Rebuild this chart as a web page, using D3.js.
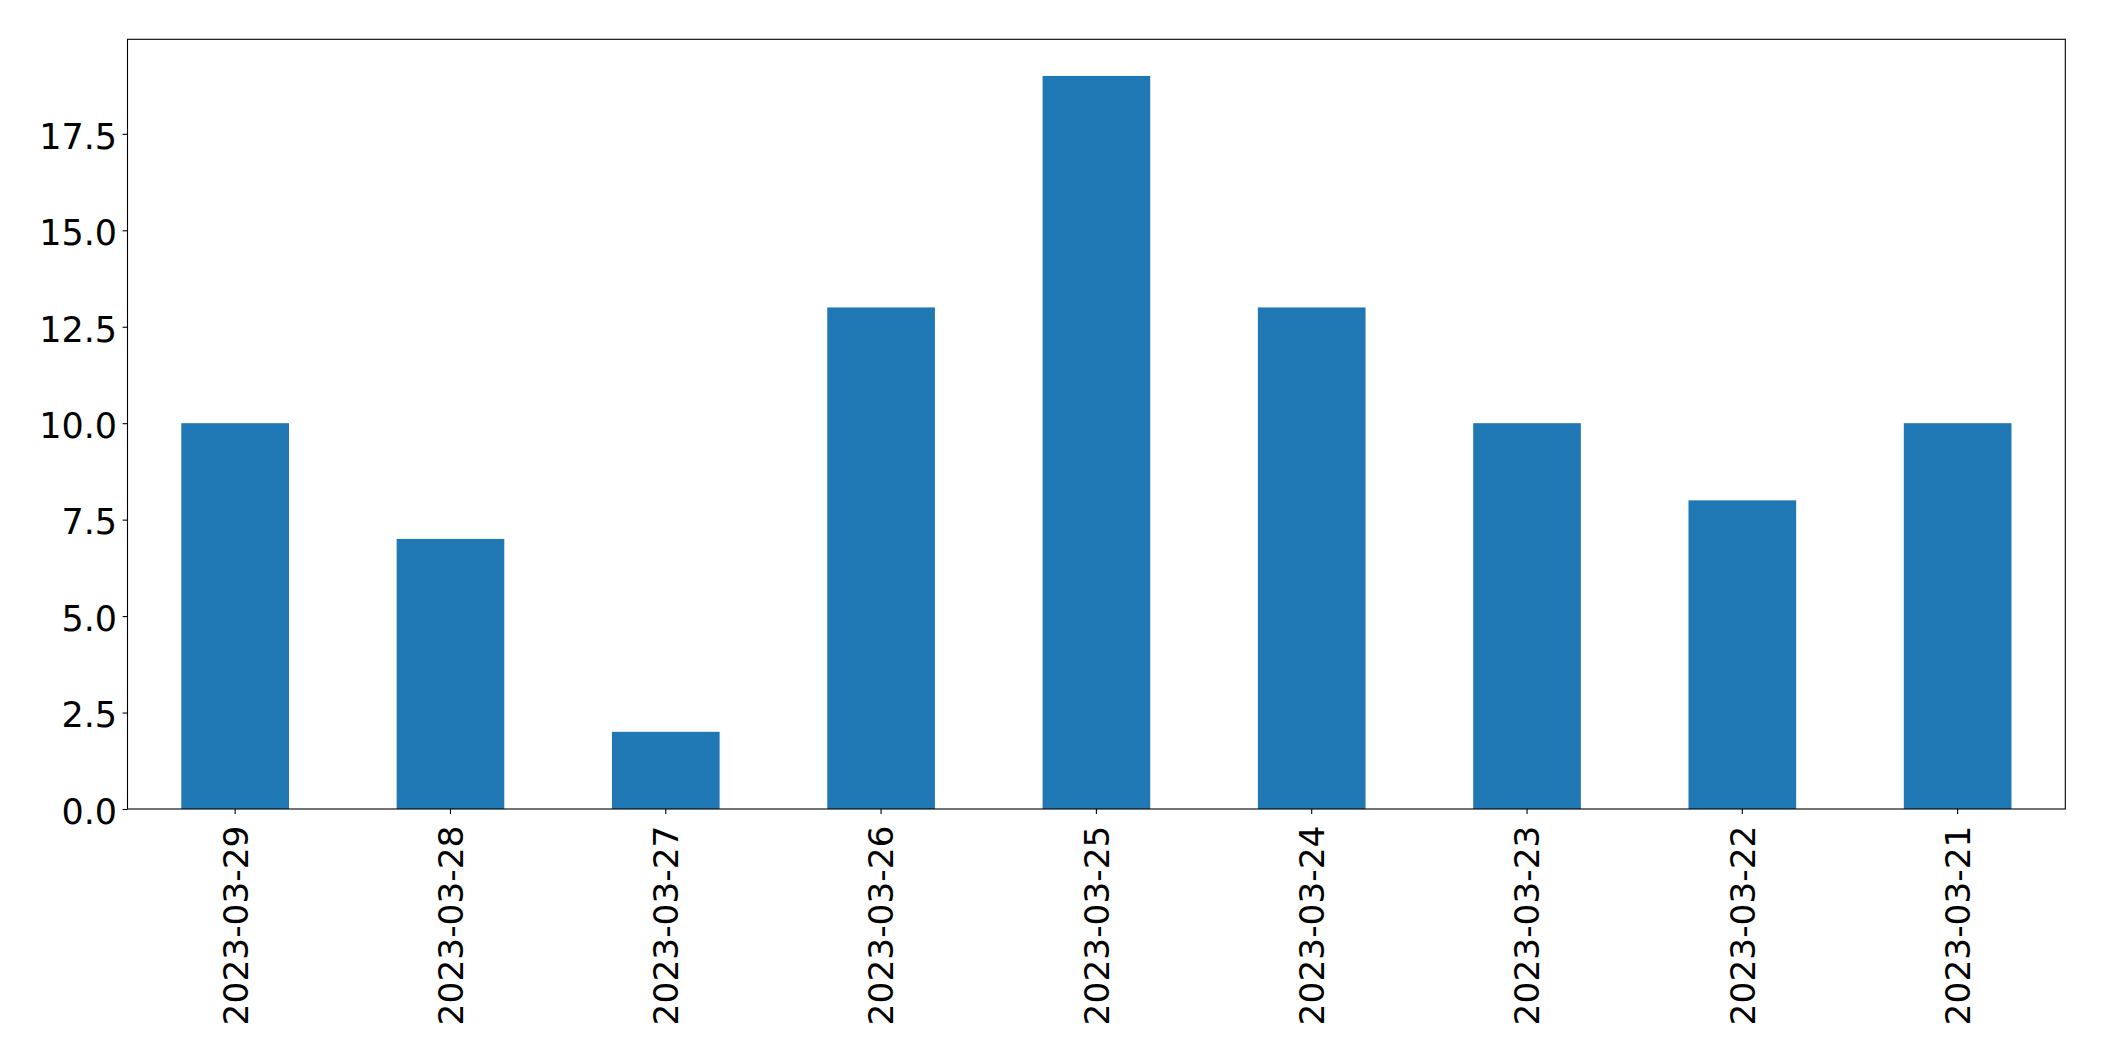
<!DOCTYPE html>
<html>
<head>
<meta charset="utf-8">
<script src="https://cdn.jsdelivr.net/npm/d3@7"></script>
<style>
  html, body { margin: 0; padding: 0; background: #fff; }
  svg { display: block; }
</style>
</head>
<body>
<svg id="chart" width="2104" height="1061"></svg>
<script>
const categories = ["2023-03-29","2023-03-28","2023-03-27","2023-03-26","2023-03-25","2023-03-24","2023-03-23","2023-03-22","2023-03-21"];
const values = [10, 7, 2, 13, 19, 13, 10, 8, 10];
const yTicks = [0, 2.5, 5, 7.5, 10, 12.5, 15, 17.5];

(function () {
const svg = d3.select("#chart");
const mLeft = 127.5, mRight = 2065.3, mTop = 39.3, mBottom = 809;
const font = "DejaVu Sans, sans-serif";
const fs = 34.4;

const x = d3.scaleBand().domain(categories).range([mLeft, mRight]).paddingInner(0.5).paddingOuter(0.25);
const y = d3.scaleLinear().domain([0, 19.95]).range([mBottom, mTop]);

svg.append("g").selectAll("rect").data(values).join("rect")
  .attr("x", (d, i) => x(categories[i]))
  .attr("y", d => y(d))
  .attr("width", x.bandwidth())
  .attr("height", d => y(0) - y(d))
  .attr("fill", "#1f77b4");

// Y axis
const yAxis = svg.append("g").attr("transform", `translate(${mLeft},0)`)
  .call(d3.axisLeft(y).tickValues(yTicks).tickFormat(d3.format(".1f")).tickSize(4.9).tickPadding(5.5));
yAxis.select(".domain").remove();
yAxis.selectAll("line").attr("stroke", "#000").attr("stroke-width", 1.1);
yAxis.selectAll("text").attr("font-family", font).attr("font-size", 35).attr("fill", "#000")
  .attr("dy", "0.41em");

// X axis
const xAxis = svg.append("g").attr("transform", `translate(0,${mBottom})`)
  .call(d3.axisBottom(x).tickSize(4.9).tickPadding(0));
xAxis.select(".domain").remove();
xAxis.selectAll("line").attr("stroke", "#000").attr("stroke-width", 1.1);
xAxis.selectAll("text").attr("font-family", font).attr("font-size", fs).attr("fill", "#000")
  .attr("text-anchor", "end")
  .attr("y", 0).attr("dy", "0.36em")
  .attr("transform", "translate(0,16.5) rotate(-90)");

// frame
svg.append("rect").attr("x", mLeft).attr("y", mTop).attr("width", mRight - mLeft).attr("height", mBottom - mTop)
  .attr("fill", "none").attr("stroke", "#000").attr("stroke-width", 1.1);
})();
</script>
</body>
</html>
